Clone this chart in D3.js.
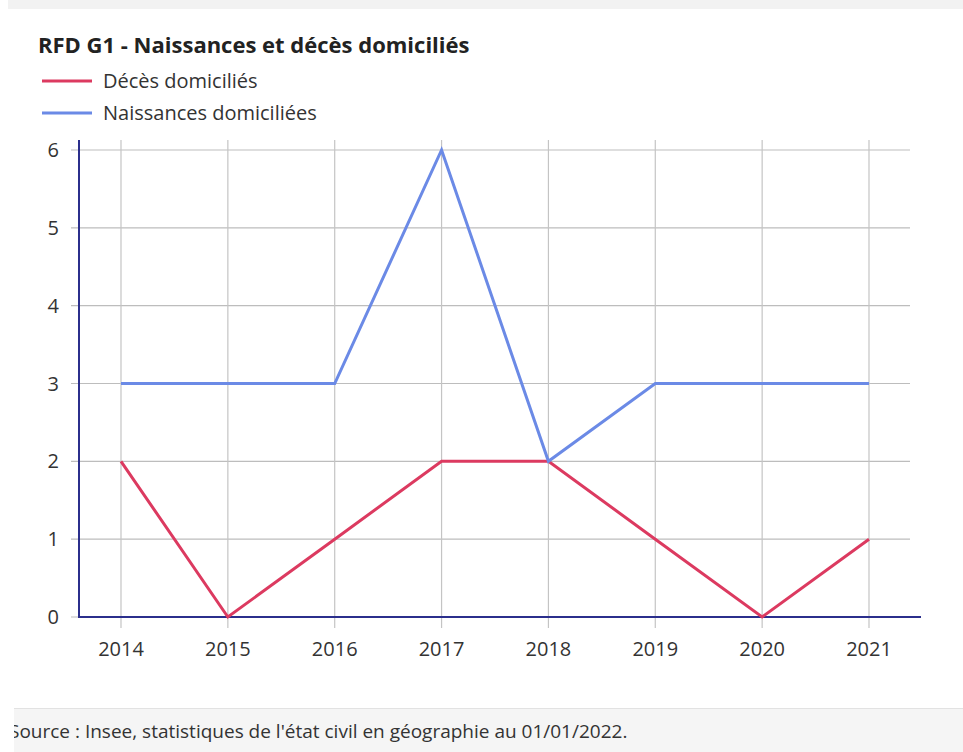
<!DOCTYPE html>
<html><head><meta charset="utf-8">
<script src="https://cdn.jsdelivr.net/npm/d3@7"></script>
<style>
body{margin:0;background:#fff;font-family:"Open Sans",sans-serif;}
svg{display:block;}
</style></head>
<body>
<svg id="c" width="963" height="752"></svg>
<script>
const years = ["2014","2015","2016","2017","2018","2019","2020","2021"];
const deces = [2,0,1,2,2,1,0,1];
const naissances = [3,3,3,6,2,3,3,3];
const yTicks = [0,1,2,3,4,5,6];
const seriesNames = ["Décès domiciliés","Naissances domiciliées"];
const colors = ["#dc3a60","#6b8ae6"];
const title = "RFD G1 - Naissances et décès domiciliés";
const source = "Source : Insee, statistiques de l'état civil en géographie au 01/01/2022.";

const svg = d3.select("#c");
// top band
svg.append("rect").attr("x",8).attr("y",0).attr("width",955).attr("height",9).attr("fill","#f2f2f2");
// footer band
svg.append("rect").attr("x",14).attr("y",708).attr("width",949).attr("height",44).attr("fill","#f5f5f5");
svg.append("line").attr("x1",14).attr("x2",963).attr("y1",708.5).attr("y2",708.5).attr("stroke","#e2e2e2");
svg.append("clipPath").attr("id","fc").append("rect").attr("x",14).attr("y",708).attr("width",949).attr("height",44);
svg.append("text").attr("clip-path","url(#fc)").attr("x",9).attr("y",738).attr("font-size",19).attr("fill","#333").text(source);

svg.append("text").attr("x",38).attr("y",53).attr("font-size",22).attr("font-weight","bold").attr("fill","#222").text(title);

// legend
seriesNames.forEach((n,i)=>{
  const y = 81 + i*32;
  svg.append("line").attr("x1",42).attr("x2",92).attr("y1",y).attr("y2",y).attr("stroke",colors[i]).attr("stroke-width",3);
  svg.append("text").attr("x",103).attr("y",y+7).attr("font-size",20).attr("fill","#333").text(n);
});

const x = d3.scalePoint().domain(years).range([121,869]);
const y = d3.scaleLinear().domain([0,6]).range([617,150]);

// horizontal grid
svg.append("g").selectAll("line").data(yTicks).join("line")
  .attr("x1",71).attr("x2",910).attr("y1",d=>y(d)).attr("y2",d=>y(d))
  .attr("stroke","#bdbdbd").attr("stroke-width",1.2);
// vertical grid
svg.append("g").selectAll("line").data(years).join("line")
  .attr("x1",d=>x(d)).attr("x2",d=>x(d)).attr("y1",140).attr("y2",628)
  .attr("stroke","#c4c4c4").attr("stroke-width",1.2);

// y labels
svg.append("g").selectAll("text").data(yTicks).join("text")
  .attr("x",59).attr("y",d=>y(d)+7).attr("text-anchor","end").attr("font-size",20).attr("fill","#333").text(d=>d);
// x labels
svg.append("g").selectAll("text").data(years).join("text")
  .attr("x",d=>x(d)).attr("y",656).attr("text-anchor","middle").attr("font-size",20).attr("fill","#333").text(d=>d);

// axes lines
svg.append("line").attr("x1",79).attr("x2",79).attr("y1",140).attr("y2",618).attr("stroke","#2b2f8c").attr("stroke-width",2);
svg.append("line").attr("x1",78).attr("x2",921).attr("y1",617).attr("y2",617).attr("stroke","#2b2f8c").attr("stroke-width",2);

const line = d3.line().x((d,i)=>x(years[i])).y(d=>y(d));
[deces,naissances].forEach((s,i)=>{
  svg.append("path").datum(s).attr("d",line).attr("fill","none").attr("stroke",colors[i]).attr("stroke-width",3).attr("stroke-linejoin","miter");
});
</script>
</body></html>
